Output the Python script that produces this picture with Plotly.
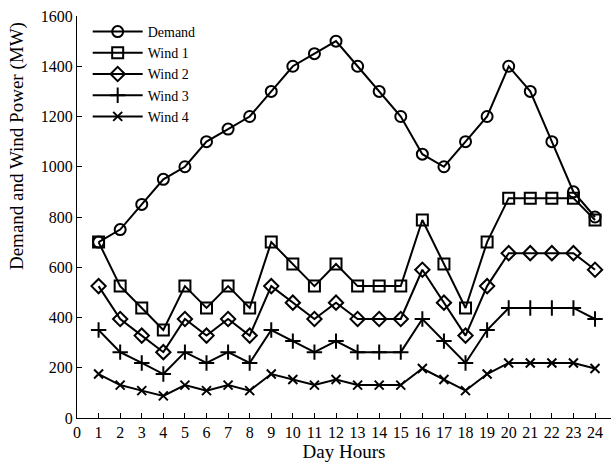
import plotly.graph_objects as go

hours = list(range(1, 25))
demand = [700, 750, 850, 950, 1000, 1100, 1150, 1200, 1300, 1400, 1450, 1500,
          1400, 1300, 1200, 1050, 1000, 1100, 1200, 1400, 1300, 1100, 900, 800]
wind1 = [700, 525, 438, 350, 525, 438, 525, 438, 700, 613, 525, 613,
         525, 525, 525, 788, 613, 438, 700, 875, 875, 875, 875, 788]
wind2 = [525, 394, 328, 262, 394, 328, 394, 328, 525, 459, 394, 459,
         394, 394, 394, 590, 459, 328, 525, 656, 656, 656, 656, 590]
wind3 = [350, 262, 219, 175, 262, 219, 262, 219, 350, 306, 262, 306,
         262, 262, 262, 394, 306, 219, 350, 438, 438, 438, 438, 394]
wind4 = [175, 131, 109, 88, 131, 109, 131, 109, 175, 153, 131, 153,
         131, 131, 131, 197, 153, 109, 175, 219, 219, 219, 219, 197]

series = [
    ("Demand", demand, "circle-open", 11),
    ("Wind 1", wind1, "square-open", 11),
    ("Wind 2", wind2, "diamond-open", 11),
    ("Wind 3", wind3, "cross-thin-open", 11),
    ("Wind 4", wind4, "x-thin-open", 9),
]

fig = go.Figure()
for name, vals, sym, size in series:
    fig.add_trace(go.Scatter(
        x=hours, y=vals, name=name, mode="lines+markers",
        line=dict(color="black", width=2),
        marker=dict(symbol=sym, size=size, color="black",
                    line=dict(color="black", width=2)),
    ))

font = "Liberation Serif, Times New Roman, serif"
fig.update_layout(
    width=611, height=462,
    margin=dict(l=77, r=0, t=16, b=44),
    paper_bgcolor="white", plot_bgcolor="white",
    font=dict(family=font, size=16, color="black"),
    showlegend=True,
    legend=dict(x=0.02, y=1.0, xanchor="left", yanchor="top",
                bgcolor="rgba(0,0,0,0)", font=dict(size=14),
                tracegroupgap=0, itemwidth=50),
    xaxis=dict(range=[0, 24.74], tickmode="linear", tick0=0, dtick=1,
               ticks="inside", ticklen=5, tickcolor="black",
               showline=True, linecolor="black", linewidth=1,
               showgrid=False, zeroline=False,
               tickfont=dict(size=16),
               title=dict(text="Day Hours", standoff=0,
                          font=dict(size=19))),
    yaxis=dict(range=[0, 1600], tickmode="linear", tick0=0, dtick=200,
               ticks="inside", ticklen=5, tickcolor="black",
               showline=True, linecolor="black", linewidth=1,
               showgrid=False, zeroline=False,
               tickfont=dict(size=16)),
    annotations=[dict(text="Demand and Wind Power (MW)", textangle=-90,
                      xref="paper", yref="paper", x=-0.112, y=0.677,
                      xanchor="center", yanchor="middle", showarrow=False,
                      font=dict(size=19))],
)

fig.write_html("out.html")
